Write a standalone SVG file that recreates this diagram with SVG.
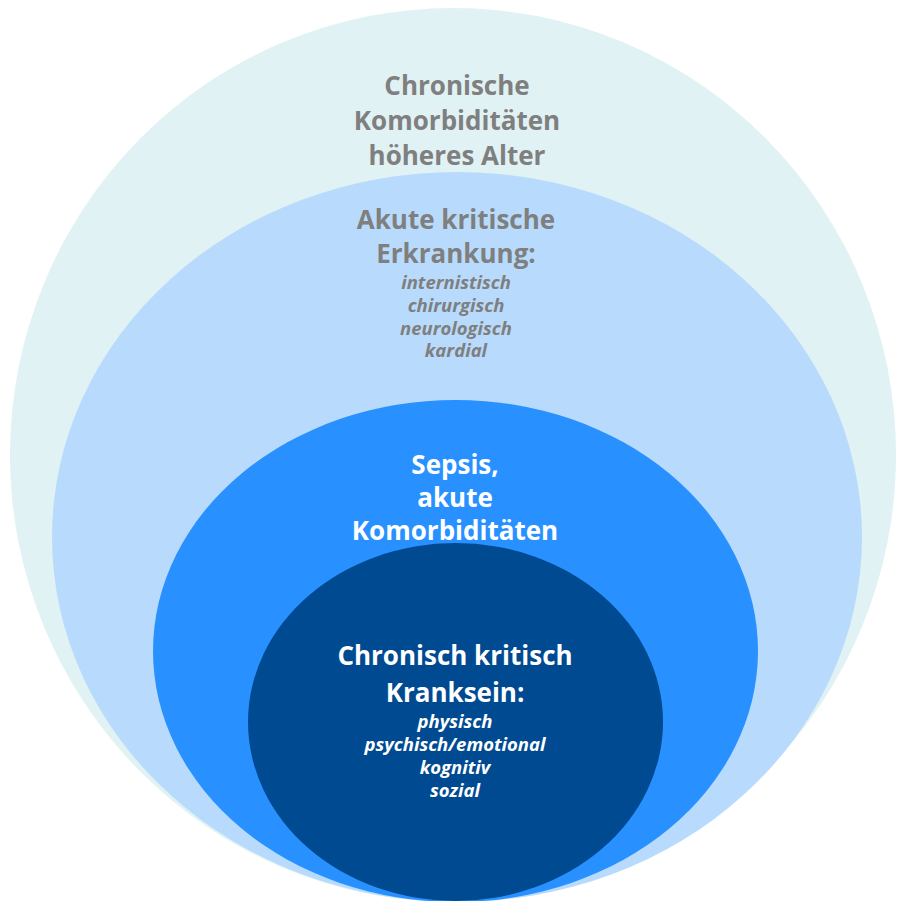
<svg xmlns="http://www.w3.org/2000/svg" width="897" height="901" viewBox="0 0 897 901">
  <style>
    .head { font-family: "Open Sans", "Noto Sans", "Liberation Sans", sans-serif; font-weight: 700; font-size: 26px; text-anchor: middle; }
    .sub { font-family: "Open Sans", "Noto Sans", "Liberation Sans", sans-serif; font-weight: 700; font-style: italic; font-size: 18.5px; text-anchor: middle; }
    .grey { fill: #7f7f7f; }
    .white { fill: #ffffff; }
  </style>
  <rect width="897" height="901" fill="#ffffff"/>

  <!-- outer ring: chronic comorbidities / age -->
  <g id="chronische-komorbiditaeten">
    <ellipse cx="453" cy="455" rx="443" ry="447" fill="#e0f2f3"/>
    <text class="head grey" x="457" y="95">Chronische</text>
    <text class="head grey" x="457" y="130">Komorbiditäten</text>
    <text class="head grey" x="457" y="165">höheres Alter</text>
  </g>

  <!-- acute critical illness -->
  <g id="akute-erkrankung">
    <ellipse cx="457" cy="537" rx="405" ry="365" fill="#b8dbfd"/>
    <text class="head grey" x="456" y="229">Akute kritische</text>
    <text class="head grey" x="456" y="263">Erkrankung:</text>
    <text class="sub grey" x="456" y="289">internistisch</text>
    <text class="sub grey" x="456" y="312">chirurgisch</text>
    <text class="sub grey" x="456" y="335">neurologisch</text>
    <text class="sub grey" x="456" y="357">kardial</text>
  </g>

  <!-- sepsis / acute comorbidities -->
  <g id="sepsis">
    <ellipse cx="455.5" cy="651" rx="302.5" ry="251" fill="#2891ff"/>
    <text class="head white" x="455" y="474">Sepsis,</text>
    <text class="head white" x="455" y="507">akute</text>
    <text class="head white" x="455" y="540">Komorbiditäten</text>
  </g>

  <!-- core: chronic critical illness -->
  <g id="chronisch-kritisch">
    <ellipse cx="455.5" cy="722" rx="207.5" ry="179" fill="#004a91"/>
    <text class="head white" x="455" y="665">Chronisch kritisch</text>
    <text class="head white" x="455" y="702">Kranksein:</text>
    <text class="sub white" x="455" y="728">physisch</text>
    <text class="sub white" x="455" y="751">psychisch/emotional</text>
    <text class="sub white" x="455" y="774">kognitiv</text>
    <text class="sub white" x="455" y="797">sozial</text>
  </g>

  <g id="connectors"/>
</svg>
